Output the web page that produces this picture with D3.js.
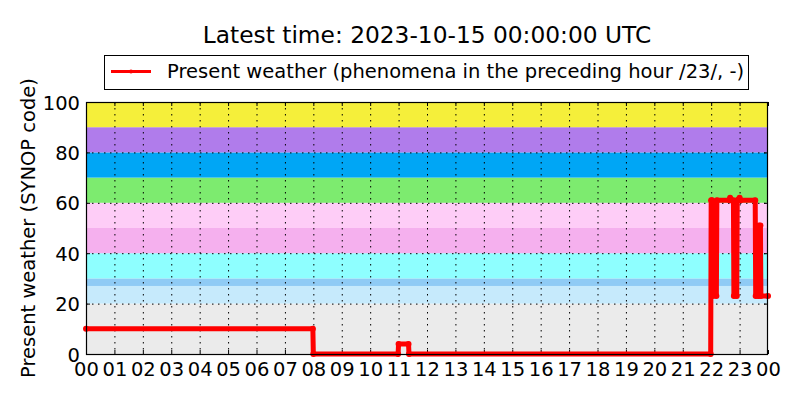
<!DOCTYPE html>
<html>
<head>
<meta charset="utf-8">
<script src="https://cdn.jsdelivr.net/npm/d3@7"></script>
<style>
  body { margin: 0; background: #fff; }
  svg { font-family: "DejaVu Sans", sans-serif; }
</style>
</head>
<body>
<svg id="chart" width="800" height="400"></svg>
<script>
// ---- data ----
const times  = ["00:00","07:59","08:00","10:59","11:00","11:21","11:22","21:59","22:00","22:02","22:03","22:11","22:12","22:39","22:40","22:42","22:47","22:48","22:54","22:55","23:00","23:02","23:33","23:34","23:40","23:41","23:44","23:45","24:00"];
const values = [10,10,0,0,4,4,0,0,61,61,23,23,61,61,62,61,61,23,23,61,62,61,61,23,23,51,51,23,23];
const hourLabels = ["00","01","02","03","04","05","06","07","08","09","10","11","12","13","14","15","16","17","18","19","20","21","22","23","00"];
const yTicks = [0,20,40,60,80,100];
const bandLo = [0,20,27,30,40,50,60,70,80,90];
const bandHi = [20,27,30,40,50,60,70,80,90,100];
const bandColors = ["#ebebeb","#c6eafc","#8fcbf5","#8effff","#f5b0ee","#fecdf7","#7deb6f","#00a6f5","#b07ceb","#f5ef3a"];
const titleText = "Latest time: 2023-10-15 00:00:00 UTC";
const legendText = "Present weather (phenomena in the preceding hour /23/, -)";
const yLabel = "Present weather (SYNOP code)";

// ---- layout ----
const L = 86, R = 768, T = 102, B = 354;
const svg = d3.select("#chart");
const toMin = s => { const [h,m] = s.split(":").map(Number); return h*60+m; };
const x = d3.scaleLinear().domain([0,1440]).range([L,R]);
const y = d3.scaleLinear().domain([0,100]).range([B,T]);
const data = times.map((t,i)=>({t:toMin(t), v:values[i]}));

// bands
svg.append("g").selectAll("rect").data(bandLo).join("rect")
  .attr("x", L).attr("width", R-L)
  .attr("y", (d,i)=>y(bandHi[i])).attr("height", (d,i)=>y(d)-y(bandHi[i]))
  .attr("fill", (d,i)=>bandColors[i]);

// grid
const hourTicks = d3.range(0,1441,60);
svg.append("g").selectAll("line").data(hourTicks.slice(1,-1)).join("line")
  .attr("x1", d=>x(d)+0.5).attr("x2", d=>x(d)+0.5).attr("y1", T).attr("y2", B)
  .attr("stroke","#000").attr("stroke-width",1).attr("stroke-dasharray","1.5,4.5");
svg.append("g").selectAll("line").data(yTicks.slice(1,-1)).join("line")
  .attr("y1", d=>y(d)+0.5).attr("y2", d=>y(d)+0.5).attr("x1", L).attr("x2", R)
  .attr("stroke","#000").attr("stroke-width",1).attr("stroke-dasharray","1.5,4.5");

// axes (inward ticks on all sides)
const fmtX = (d,i)=>hourLabels[i];
const gxB = svg.append("g").attr("transform",`translate(0,${B})`)
  .call(d3.axisBottom(x).tickValues(hourTicks).tickFormat(fmtX).tickSizeInner(-4).tickSizeOuter(0).tickPadding(8));
const gxT = svg.append("g").attr("transform",`translate(0,${T})`)
  .call(d3.axisTop(x).tickValues(hourTicks).tickFormat("").tickSizeInner(-4).tickSizeOuter(0));
const gyL = svg.append("g").attr("transform",`translate(${L},0)`)
  .call(d3.axisLeft(y).tickValues(yTicks).tickSizeInner(-4).tickSizeOuter(0).tickPadding(6));
const gyR = svg.append("g").attr("transform",`translate(${R},0)`)
  .call(d3.axisRight(y).tickValues(yTicks).tickFormat("").tickSizeInner(-4).tickSizeOuter(0));
[gxB,gxT,gyL,gyR].forEach(g=>{
  g.select(".domain").remove();
  g.selectAll("text").attr("font-size","19.5px").attr("fill","#000").attr("font-family","DejaVu Sans, sans-serif");
  g.selectAll("line").attr("stroke","#000");
});
gyL.selectAll("text").attr("dy","0.36em");

// series line
const line = d3.line().x(d=>x(d.t)).y(d=>y(d.v));
svg.append("path").datum(data).attr("d", line)
  .attr("fill","none").attr("stroke","#ff0000").attr("stroke-width",5)
  .attr("stroke-linejoin","round");
svg.append("g").selectAll("circle").data(data).join("circle")
  .attr("cx", d=>x(d.t)).attr("cy", d=>y(d.v)).attr("r", 3).attr("fill","#ff0000");

// frame
svg.append("rect").attr("x", L+0.5).attr("y", T+0.5).attr("width", R-L-1).attr("height", B-T)
  .attr("fill","none").attr("stroke","#000").attr("stroke-width",1.2);

// title
svg.append("text").attr("x", (L+R)/2).attr("y", 43).attr("text-anchor","middle")
  .attr("font-size","23.3px").text(titleText);

// legend
svg.append("rect").attr("x",104.5).attr("y",55.5).attr("width",644).attr("height",34)
  .attr("fill","#fff").attr("stroke","#000").attr("stroke-width",1);
svg.append("line").attr("x1",111).attr("x2",151).attr("y1",71.5).attr("y2",71.5)
  .attr("stroke","#ff0000").attr("stroke-width",3);
svg.append("circle").attr("cx",131).attr("cy",71.5).attr("r",2).attr("fill","#ff0000");
svg.append("text").attr("x",167).attr("y",78).attr("font-size","19.5px").text(legendText);

// y label
svg.append("text").attr("transform","translate(35,228) rotate(-90)").attr("text-anchor","middle")
  .attr("font-size","19.5px").text(yLabel);
</script>
</body>
</html>
